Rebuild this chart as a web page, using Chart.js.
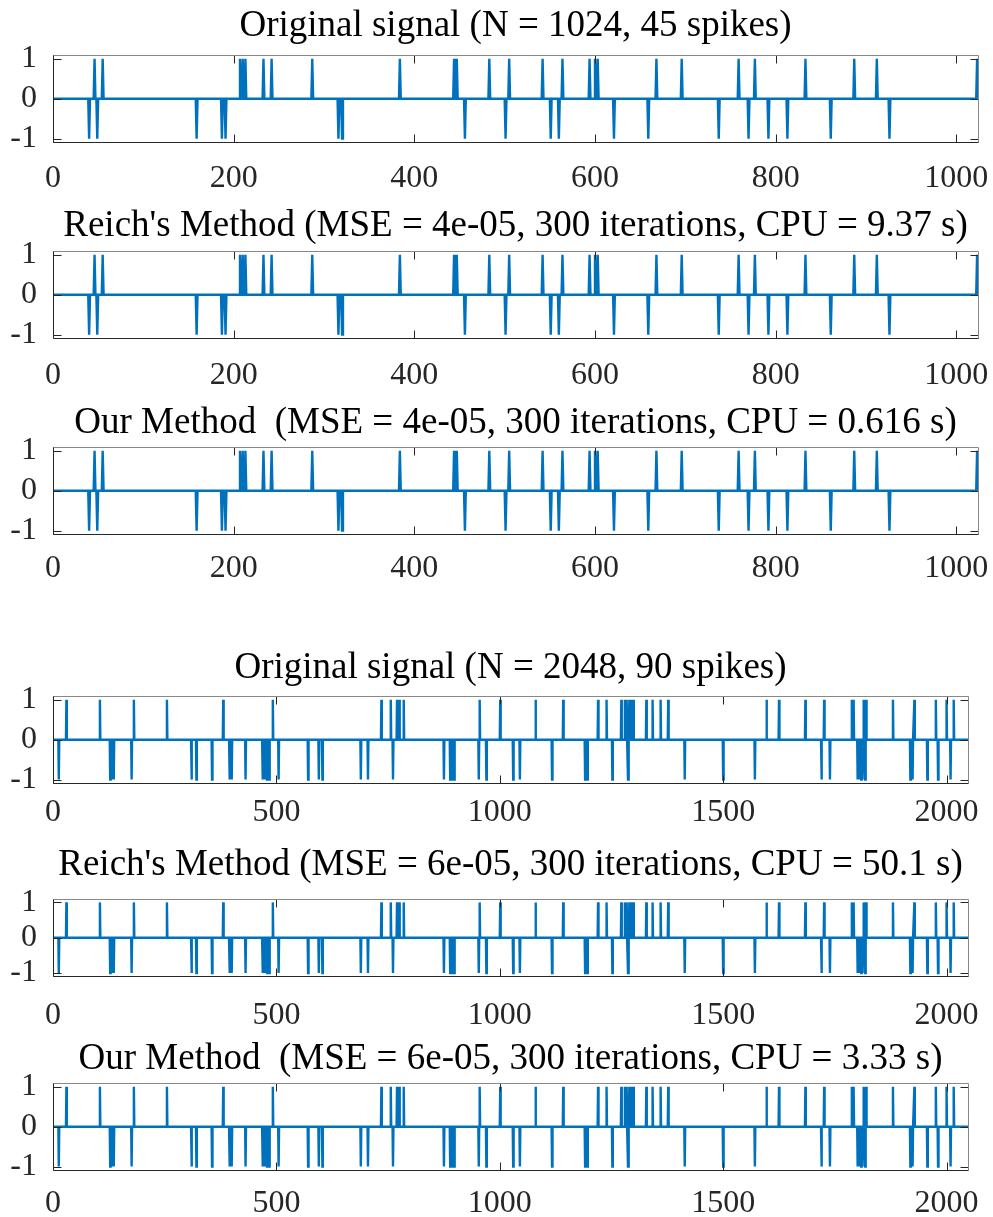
<!DOCTYPE html>
<html>
<head>
<meta charset="utf-8">
<script src="https://cdn.jsdelivr.net/npm/chart.js@4.4.1/dist/chart.umd.min.js"></script>
<style>
  body { margin: 0; background: #fff; }
  #page { position: relative; width: 993px; height: 1217px; overflow: hidden; background: #fff; }
  .panel { position: absolute; left: 0; }
</style>
</head>
<body>
<div id="page"></div>
<script>
// signal lengths
var N1 = 1024;
var N2 = 2048;

// spike locations (+1 and -1)
var upSpikes1 = [46, 55, 207, 210, 213, 233, 242, 287, 384, 444, 447, 483, 505, 542, 564, 594, 600, 603,
                 668, 696, 759, 777, 833, 887, 912, 1023];
var downSpikes1 = [40, 49, 159, 187, 191, 316, 320, 456, 501, 551, 560, 621, 659, 737, 770, 792, 813, 861, 926];

var upSpikes2 = [30, 105, 181, 255, 381, 492, 735, 756, 770, 775, 785, 955, 1001, 1080, 1142, 1220, 1239,
                 1272, 1280, 1284, 1290, 1296, 1299, 1328, 1342, 1360, 1377, 1597, 1625, 1684, 1726,
                 1788, 1792, 1815, 1820, 1880, 1928, 1976, 2000, 2016];
var downSpikes2 = [13, 128, 132, 136, 176, 310, 321, 356, 395, 400, 431, 469, 474, 479, 484, 505, 571, 595, 603,
                   689, 705, 761, 875, 889, 894, 898, 953, 970, 1030, 1045, 1117, 1191, 1196, 1252, 1287,
                   1414, 1500, 1571, 1720, 1739, 1801, 1806, 1809, 1812, 1818, 1919, 1924, 1957, 1981, 2009];

var xTicks1 = [0, 200, 400, 600, 800, 1000];
var xTicks2 = [0, 500, 1000, 1500, 2000];
var yTicks = [-1, 0, 1];

var titles = [
  'Original signal (N = 1024, 45 spikes)',
  "Reich's Method (MSE = 4e-05, 300 iterations, CPU = 9.37 s)",
  'Our Method  (MSE = 4e-05, 300 iterations, CPU = 0.616 s)',
  'Original signal (N = 2048, 90 spikes)',
  "Reich's Method (MSE = 6e-05, 300 iterations, CPU = 50.1 s)",
  'Our Method  (MSE = 6e-05, 300 iterations, CPU = 3.33 s)'
];

// where each subplot sits on the page
var panels = [
  {titleY: 26,   top: 55,  bottom: 142,  labelY: 178,  right: 978},
  {titleY: 226,  top: 251, bottom: 338,  labelY: 375,  right: 978},
  {titleY: 423,  top: 447, bottom: 534,  labelY: 568,  right: 978},
  {titleY: 668,  top: 696, bottom: 783,  labelY: 812,  right: 968},
  {titleY: 865,  top: 899, bottom: 976,  labelY: 1015, right: 968},
  {titleY: 1059, top: 1083, bottom: 1170, labelY: 1203, right: 968}
];
var LEFT = 53;

var FONT = "'Liberation Serif', 'Times New Roman', serif";
var FS = 32;          // tick labels
var TFS = 37;         // titles
var LH = FS * 1.2;
var TLH = TFS * 1.2;
var BLUE = '#0072BD';

// baseline at zero with a spike at each location
function buildSignal(n, ups, downs) {
  var pts = {};
  pts[1] = 0;
  pts[n] = 0;
  ups.forEach(function (p) { pts[p] = 1; });
  downs.forEach(function (p) { pts[p] = -1; });
  ups.concat(downs).forEach(function (p) {
    if (pts[p - 1] === undefined && p - 1 >= 1) pts[p - 1] = 0;
    if (pts[p + 1] === undefined && p + 1 <= n) pts[p + 1] = 0;
  });
  return Object.keys(pts).map(Number).sort(function (a, b) { return a - b; })
    .map(function (x) { return {x: x, y: pts[x]}; });
}

var signal1 = buildSignal(N1, upSpikes1, downSpikes1);
var signal2 = buildSignal(N2, upSpikes2, downSpikes2);

// matlab style box with inward ticks
var boxPlugin = {
  id: 'box',
  afterDraw: function (chart) {
    var a = chart.chartArea, c = chart.ctx;
    var xs = chart.scales.x, ys = chart.scales.y;
    var l = Math.round(a.left) + 0.5, r = Math.round(a.right) + 0.5;
    var t = Math.round(a.top) + 0.5, b = Math.round(a.bottom) + 0.5;
    c.save();
    c.lineWidth = 1;
    c.strokeStyle = '#262626';
    c.beginPath();
    xs.ticks.forEach(function (tk) {
      var px = Math.round(xs.getPixelForValue(tk.value)) + 0.5;
      c.moveTo(px, b); c.lineTo(px, b - 8);
      c.moveTo(px, t); c.lineTo(px, t + 8);
    });
    ys.ticks.forEach(function (tk) {
      var py = Math.round(ys.getPixelForValue(tk.value)) + 0.5;
      c.moveTo(l, py); c.lineTo(l + 8, py);
      c.moveTo(r, py); c.lineTo(r - 8, py);
    });
    c.stroke();
    c.strokeStyle = '#888';
    c.beginPath();
    c.moveTo(l, t); c.lineTo(r, t); c.lineTo(r, b);
    c.stroke();
    c.strokeStyle = '#262626';
    c.beginPath();
    c.moveTo(l, t); c.lineTo(l, b); c.lineTo(r, b);
    c.stroke();
    c.restore();
  }
};

var page = document.getElementById('page');

panels.forEach(function (p, i) {
  var big = i >= 3;
  var n = big ? N2 : N1;
  var data = big ? signal2 : signal1;
  var ticks = big ? xTicks2 : xTicks1;

  var canvasTop = p.titleY - TLH / 2;
  var xGap = p.labelY - p.bottom - LH / 2;
  var xAxisH = p.labelY - p.bottom + 24;
  var h = p.bottom + xAxisH - canvasTop;
  // canvas runs past the page on the right so the title centres over the axes
  var w = p.right + LEFT;

  var div = document.createElement('div');
  div.className = 'panel';
  div.style.top = canvasTop + 'px';
  div.style.height = h + 'px';
  div.style.width = w + 'px';
  var cv = document.createElement('canvas');
  div.appendChild(cv);
  page.appendChild(div);

  new Chart(cv.getContext('2d'), {
    type: 'line',
    data: {
      datasets: [{
        data: data,
        borderColor: BLUE,
        borderWidth: 2.4,
        pointRadius: 0,
        tension: 0,
        fill: false
      }]
    },
    options: {
      responsive: true,
      maintainAspectRatio: false,
      animation: false,
      devicePixelRatio: 1,
      layout: {padding: 0},
      plugins: {
        legend: {display: false},
        tooltip: {enabled: false},
        title: {
          display: true,
          text: titles[i],
          color: '#000',
          font: {family: FONT, size: TFS, weight: 'normal'},
          padding: {top: 0, bottom: p.top - p.titleY - TLH / 2}
        }
      },
      scales: {
        x: {
          type: 'linear',
          min: 0,
          max: n,
          grid: {display: true, color: 'rgba(0,0,0,0)', drawOnChartArea: false, drawTicks: true, tickLength: xGap},
          border: {display: false},
          ticks: {
            color: '#262626',
            font: {family: FONT, size: FS},
            padding: 0,
            maxRotation: 0,
            autoSkip: false,
            callback: function (v) { return String(v); }
          },
          afterBuildTicks: function (s) { s.ticks = ticks.map(function (v) { return {value: v}; }); },
          afterFit: function (s) { s.height = xAxisH; }
        },
        y: {
          min: -1.09,
          max: 1.09,
          grid: {display: true, color: 'rgba(0,0,0,0)', drawOnChartArea: false, drawTicks: true, tickLength: 16},
          border: {display: false},
          ticks: {
            color: '#262626',
            font: {family: FONT, size: FS},
            padding: 0,
            autoSkip: false,
            callback: function (v) { return String(v); }
          },
          afterBuildTicks: function (s) { s.ticks = yTicks.map(function (v) { return {value: v}; }); },
          afterFit: function (s) { s.width = LEFT; }
        },
        // empty right axis, same width as the left one
        y2: {
          position: 'right',
          min: -1.09,
          max: 1.09,
          grid: {display: false, drawTicks: false},
          border: {display: false},
          ticks: {display: false},
          afterFit: function (s) { s.width = LEFT; }
        }
      }
    },
    plugins: [boxPlugin]
  });
});
</script>
</body>
</html>
